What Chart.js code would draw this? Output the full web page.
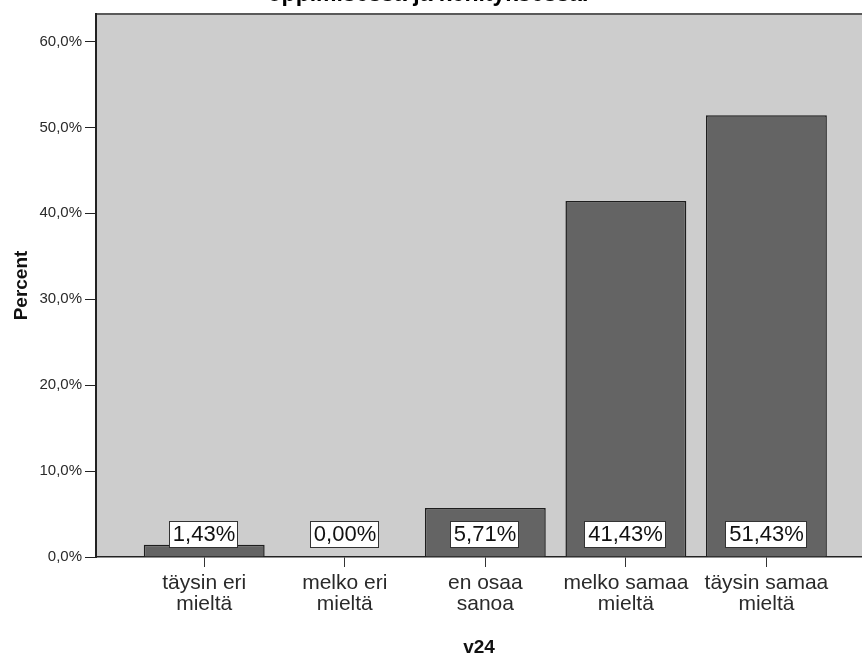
<!DOCTYPE html>
<html>
<head>
<meta charset="utf-8">
<script src="https://cdn.jsdelivr.net/npm/chart.js@4"></script>
<style>
  body { margin: 0; background: #fff; }
  canvas { display: block; }
</style>
</head>
<body>
<canvas id="chart" width="862" height="655"></canvas>
<script>
const categories = [
  ["täysin eri", "mieltä"],
  ["melko eri", "mieltä"],
  ["en osaa", "sanoa"],
  ["melko samaa", "mieltä"],
  ["täysin samaa", "mieltä"],
];
const percents = [1.43, 0.0, 5.71, 41.43, 51.43];
const yTicks = [0, 10, 20, 30, 40, 50, 60];
const chartTitle = "oppimisessa ja kehityksessä.";
const xTitle = "v24";
const yTitle = "Percent";

const FONT = "'Liberation Sans', Arial, sans-serif";

const plotBackground = {
  id: "plotBackground",
  beforeDraw(chart) {
    const { ctx, chartArea: a } = chart;
    ctx.save();
    ctx.fillStyle = "#cdcdcd";
    ctx.fillRect(a.left, a.top, a.right - a.left, a.bottom - a.top);
    ctx.strokeStyle = "#5a5a5a";
    ctx.lineWidth = 2;
    ctx.beginPath();
    ctx.moveTo(a.left, a.top);
    ctx.lineTo(a.right, a.top);
    ctx.stroke();
    // title sits mostly above the visible area, only its bottom shows
    ctx.fillStyle = "#000";
    ctx.font = "bold 23px " + FONT;
    ctx.textAlign = "center";
    ctx.textBaseline = "alphabetic";
    ctx.fillText(chartTitle, 428, 1);
    ctx.restore();
  },
};

const valueBoxes = {
  id: "valueBoxes",
  afterDatasetsDraw(chart) {
    const { ctx, chartArea: a } = chart;
    const bars = chart.getDatasetMeta(0).data;
    ctx.save();
    ctx.font = "22px " + FONT;
    ctx.textAlign = "center";
    ctx.textBaseline = "middle";
    bars.forEach((bar, i) => {
      const label = percents[i].toFixed(2).replace(".", ",") + "%";
      const w = Math.round(ctx.measureText(label).width) + 6, h = 26;
      const x = Math.round(bar.x - w / 2 - 1);
      const y = a.bottom - 10 - h;
      ctx.fillStyle = "#fff";
      ctx.fillRect(x, y, w, h);
      ctx.strokeStyle = "#333";
      ctx.lineWidth = 1;
      ctx.strokeRect(x + 0.5, y + 0.5, w, h);
      ctx.fillStyle = "#111";
      ctx.fillText(label, x + w / 2 + 1, y + h / 2 + 1);
    });
    ctx.restore();
  },
};

new Chart(document.getElementById("chart"), {
  type: "bar",
  data: {
    datasets: [
      {
        data: percents.map((v, i) => ({ x: i, y: v })),
        backgroundColor: "#646464",
        borderColor: "#1e1e1e",
        borderWidth: 1.5,
        barPercentage: 0.86,
        categoryPercentage: 1,
      },
    ],
  },
  options: {
    responsive: false,
    animation: false,
    layout: { padding: { top: 14, right: 0, left: 0, bottom: 0 } },
    plugins: {
      legend: { display: false },
      tooltip: { enabled: false },
    },
    scales: {
      x: {
        type: "linear",
        offset: false,
        min: -0.77,
        max: 4.68,
        afterBuildTicks(scale) {
          scale.ticks = categories.map((_, i) => ({ value: i }));
        },
        afterFit(scale) {
          scale.height = 98;
        },
        grid: {
          offset: false,
          drawOnChartArea: false,
          tickLength: 10,
          color: "#333",
          tickColor: "#333",
        },
        border: { color: "#222", width: 1.5 },
        ticks: {
          autoSkip: false,
          maxRotation: 0,
          padding: 6,
          color: "#2a2a2a",
          font: { family: FONT, size: 21, lineHeight: 1.0 },
          callback: (v) => categories[v],
        },
        title: {
          display: true,
          text: xTitle,
          color: "#111",
          font: { family: FONT, size: 19, weight: "bold", lineHeight: 0.8 },
          padding: 0,
        },
      },
      y: {
        min: 0,
        max: 63.2,
        afterBuildTicks(scale) {
          scale.ticks = yTicks.map((v) => ({ value: v }));
        },
        afterFit(scale) {
          scale.width = 96;
        },
        grid: {
          drawOnChartArea: false,
          tickLength: 11,
          tickColor: "#222",
        },
        border: { color: "#222", width: 2 },
        ticks: {
          padding: 3,
          color: "#2a2a2a",
          font: { family: FONT, size: 15 },
          callback: (v) => v.toFixed(1).replace(".", ",") + "%",
        },
        title: {
          display: true,
          text: yTitle,
          color: "#111",
          font: { family: FONT, size: 19, weight: "bold", lineHeight: 1.0 },
          padding: { top: 12, bottom: 0 },
        },
      },
    },
  },
  plugins: [plotBackground, valueBoxes],
});
</script>
</body>
</html>
